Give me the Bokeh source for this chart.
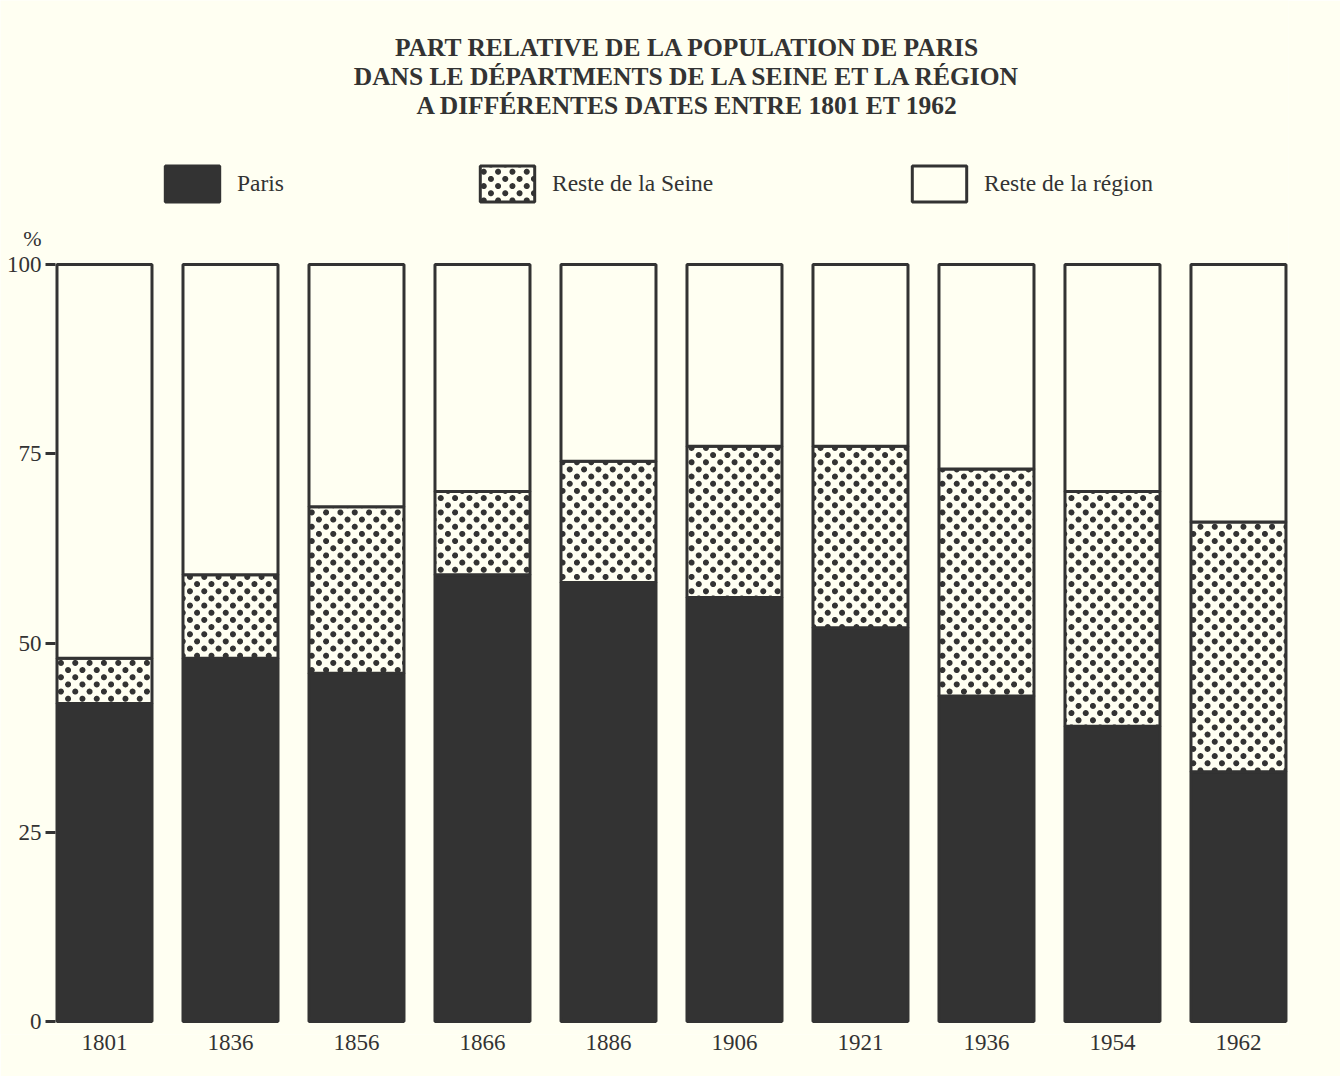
import zlib, struct, base64
import numpy as np
import pandas as pd
from bokeh.plotting import figure
from bokeh.core.properties import value
from bokeh.models import (ColumnDataSource, Range1d, FixedTicker, Label, Legend,
                          LegendItem, ImageURLTexture)
from bokeh.embed import file_html
from bokeh.resources import INLINE

# ---------------- data ----------------
years = ["1801", "1836", "1856", "1866", "1886", "1906", "1921", "1936", "1954", "1962"]
paris = [42, 48, 46, 59, 58, 56, 52, 43, 39, 33]
reste_seine = [6, 11, 22, 11, 16, 20, 24, 30, 31, 33]
reste_region = [52, 41, 32, 30, 26, 24, 24, 27, 30, 34]
y_ticks = [0, 25, 50, 75, 100]
series_labels = ["Paris", "Reste de la Seine", "Reste de la région"]
title_lines = ["PART RELATIVE DE LA POPULATION DE PARIS",
               "DANS LE DÉPARTMENTS DE LA SEINE ET LA RÉGION",
               "A DIFFÉRENTES DATES ENTRE 1801 ET 1962"]
unit_label = "%"

# ---------------- style ----------------
BG = "#fffff2"
DARK = "#333333"
FONT = "Liberation Serif"


def dot_tile(size=43, n=3, r=3.0, fg=(51, 51, 51), bg=(255, 255, 242)):
    """Staggered dot pattern tile as a PNG data URL (opaque, background colour included)."""
    period = size / n
    off = period / 4
    centers = []
    for i in range(n):
        for j in range(n):
            centers.append((off + i * period, off + j * period))
            centers.append((off + period / 2 + i * period, off + period / 2 + j * period))
    ss = 4
    rows = []
    for py in range(size):
        row = bytearray([0])
        for px in range(size):
            cov = 0
            for sy in range(ss):
                for sx in range(ss):
                    x = px + (sx + 0.5) / ss
                    y = py + (sy + 0.5) / ss
                    for (cx, cy) in centers:
                        dx = (x - cx + size / 2) % size - size / 2
                        dy = (y - cy + size / 2) % size - size / 2
                        if dx * dx + dy * dy <= r * r:
                            cov += 1
                            break
            t = cov / (ss * ss)
            row += bytes([int(round(bg[k] * (1 - t) + fg[k] * t)) for k in range(3)])
        rows.append(bytes(row))
    raw = b"".join(rows)

    def chunk(tag, data):
        return (struct.pack(">I", len(data)) + tag + data
                + struct.pack(">I", zlib.crc32(tag + data) & 0xFFFFFFFF))

    png = (b"\x89PNG\r\n\x1a\n"
           + chunk(b"IHDR", struct.pack(">IIBBBBB", size, size, 8, 2, 0, 0, 0))
           + chunk(b"IDAT", zlib.compress(raw))
           + chunk(b"IEND", b""))
    return "data:image/png;base64," + base64.b64encode(png).decode()


texture = ImageURLTexture(url=dot_tile(), repetition="repeat")

df = pd.DataFrame({"year": years, "paris": paris, "seine": reste_seine, "region": reste_region})
df["x"] = np.arange(len(df))
df["top_paris"] = df["paris"]
df["top_seine"] = df["paris"] + df["seine"]
df["top_region"] = df["top_seine"] + df["region"]
df["zero"] = 0
src = ColumnDataSource(df)

# layout geometry (px)
W, H = 1340, 1076
MR = 52
zero_px = 1021                    # canvas y of value 0
frame_bottom = 1034
MB = H - frame_bottom
px_per_unit = 757 / 100.0
y_start = -(frame_bottom - zero_px) / px_per_unit
y_end = zero_px / px_per_unit
slot = 126.0                      # px per category
x0 = -104 / slot                  # frame starts at the canvas left edge
x_axis_pos = -0.389               # y-axis drawn at the outer edge of the first bar

p = figure(width=W, height=H, output_backend="svg", toolbar_location=None,
           x_range=Range1d(x0, 9.397), y_range=Range1d(y_start, y_end),
           min_border_left=0, min_border_right=MR, min_border_bottom=MB, min_border_top=0,
           background_fill_color=BG, border_fill_color=BG)
p.title.text = ""
p.outline_line_color = None
p.grid.visible = False

BW = 0.754
r_paris = p.vbar(x="x", bottom="zero", top="top_paris", width=BW, source=src,
                 fill_color=DARK, line_color=DARK, line_width=3)
r_seine = p.vbar(x="x", bottom="top_paris", top="top_seine", width=BW, source=src,
                 fill_color=BG, line_color=DARK, line_width=3,
                 hatch_pattern=value("dots"), hatch_extra={"dots": texture})
r_region = p.vbar(x="x", bottom="top_seine", top="top_region", width=BW, source=src,
                  fill_color=BG, line_color=DARK, line_width=3)

# axes
xa = p.xaxis[0]
xa.ticker = FixedTicker(ticks=list(range(len(years))))
xa.major_label_overrides = {i: y for i, y in enumerate(years)}
xa.axis_line_color = None
xa.major_tick_line_color = None
xa.minor_tick_line_color = None
xa.major_label_standoff = -6
xa.major_label_text_font = FONT
xa.major_label_text_font_size = "23px"
xa.major_label_text_color = DARK

ya = p.yaxis[0]
ya.fixed_location = x_axis_pos
ya.ticker = FixedTicker(ticks=y_ticks)
ya.axis_line_color = None
ya.major_tick_line_color = DARK
ya.major_tick_line_width = 3
ya.major_tick_out = 10
ya.major_tick_in = 0
ya.minor_tick_line_color = None
ya.major_label_standoff = 4
ya.major_label_text_font = FONT
ya.major_label_text_font_size = "23px"
ya.major_label_text_color = DARK

# "%" unit label
p.add_layout(Label(x=(32 - 104) / slot, y=(zero_px - 238) / px_per_unit, text=unit_label,
                   text_font=FONT, text_font_size="22px", text_color=DARK,
                   text_align="center", text_baseline="middle"))

# title lines
for line, sy in zip(title_lines, [47, 76, 105]):
    p.add_layout(Label(x=4.627, y=(zero_px - sy) / px_per_unit, text=line,
                       text_font=FONT, text_font_size="25.5px", text_font_style="bold",
                       text_color=DARK, text_align="center", text_baseline="middle"))

# legends (one per item for precise placement)
for rend, lab, lx in zip([r_paris, r_seine, r_region], series_labels, [158, 473, 905]):
    lg = Legend(items=[LegendItem(label=lab, renderers=[rend])],
                location=(lx, frame_bottom - 206),
                orientation="horizontal", glyph_width=68, glyph_height=45,
                label_standoff=11, padding=0, margin=0, spacing=0,
                border_line_color=None, background_fill_alpha=0,
                label_text_font=FONT, label_text_font_size="23.5px", label_text_color=DARK)
    p.add_layout(lg, "center")

open("out.html", "w").write(file_html(p, INLINE))
